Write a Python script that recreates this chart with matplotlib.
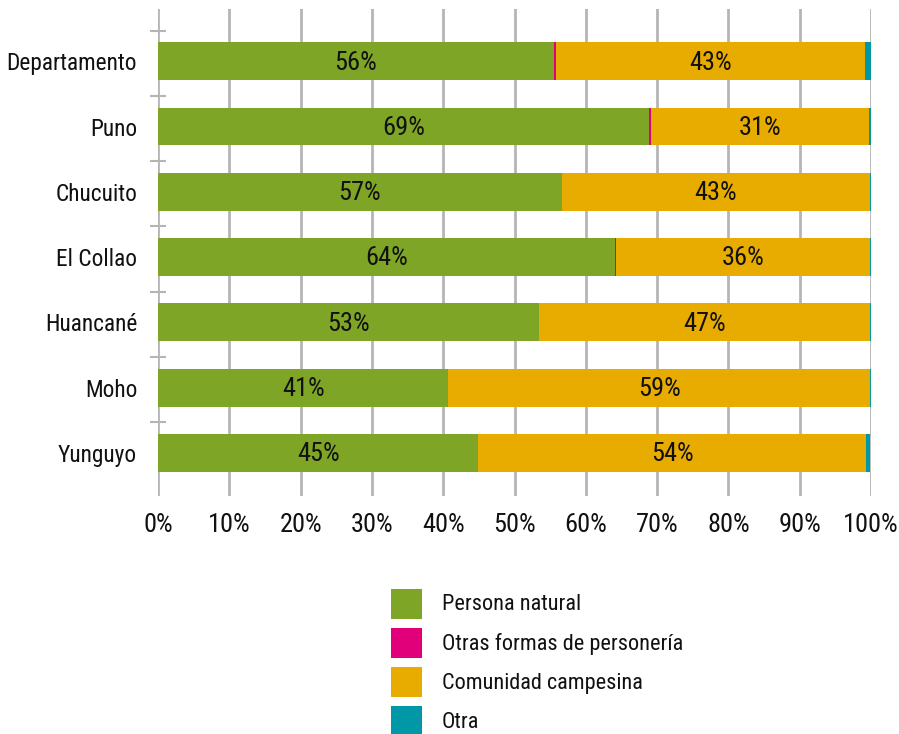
import matplotlib
matplotlib.use("Agg")
import matplotlib.pyplot as plt
from matplotlib.patches import Rectangle
import numpy as np

plt.rcParams['font.family'] = ['Roboto Condensed', 'DejaVu Sans']

categories = ["Departamento", "Puno", "Chucuito", "El Collao", "Huancané", "Moho", "Yunguyo"]
persona_natural = [55.5, 68.9, 56.6, 64.1, 53.4, 40.7, 44.9]
otras_formas = [0.3, 0.3, 0.0, 0.1, 0.0, 0.0, 0.0]
comunidad = [43.4, 30.51, 43.2, 35.7, 46.51, 59.2, 54.4]
otra = [0.8, 0.29, 0.2, 0.1, 0.09, 0.1, 0.6]
series_names = ["Persona natural", "Otras formas de personería", "Comunidad campesina", "Otra"]
colors = ["#7EA525", "#E2007A", "#E8AB00", "#0097A7"]
xticks = [0, 10, 20, 30, 40, 50, 60, 70, 80, 90, 100]

fig = plt.figure(figsize=(8.99, 7.34), dpi=100)
W, H = 899, 734
ax = fig.add_axes([158 / W, 1 - 496 / H, (871 - 158) / W, (496 - 9) / H])

y = np.arange(len(categories))
series = [persona_natural, otras_formas, comunidad, otra]
left = np.zeros(len(categories))
for i, (vals, c) in enumerate(zip(series, colors)):
    vals = np.array(vals)
    ax.barh(y, vals, left=left, height=0.58, color=c, zorder=3, linewidth=0)
    if i in (0, 2):
        for yi, l, v in zip(y, left, vals):
            ax.text(l + v / 2, yi + 0.02, f"{v:.0f}%", ha="center", va="center",
                    fontsize=19, color="#111111", zorder=4)
    left += vals

ax.set_xlim(0, 100)
ax.set_ylim(6.66, -0.8)
ax.set_xticks(xticks)
ax.set_xticklabels([f"{t}%" for t in xticks], fontsize=19, color="#111111")
ax.xaxis.grid(True, color="#b5b5b5", linewidth=2, zorder=0)
ax.tick_params(axis="x", length=0, pad=12)
ax.set_yticks(y)
ax.set_yticklabels(categories, fontsize=16.8, color="#111111")
ax.set_yticks(np.arange(len(categories)) - 0.47, minor=True)
ax.tick_params(axis="y", which="major", length=0, pad=15)
ax.tick_params(axis="y", which="minor", length=12, width=1.5, color="#b5b5b5", direction="inout")
for s in ax.spines.values():
    s.set_visible(False)

# legend drawn in figure pixel coordinates
for i, (name, c) in enumerate(zip(series_names, colors)):
    top = 589 + 39 * i
    fig.patches.append(Rectangle((391 / W, 1 - (top + 30) / H), 31 / W, 30 / H,
                                 transform=fig.transFigure, facecolor=c, edgecolor="none"))
    fig.text(442 / W, 1 - (top + 16) / H, name, ha="left", va="center",
             fontsize=16, color="#111111")

fig.savefig("out.png", dpi=100)
